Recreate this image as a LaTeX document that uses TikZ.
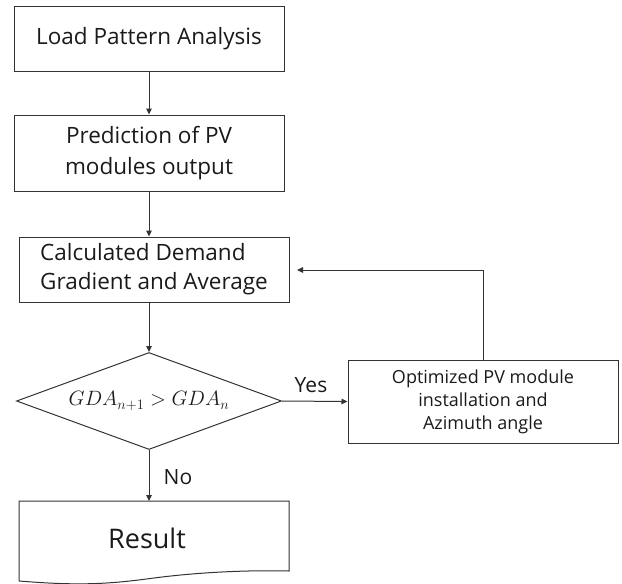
\documentclass[tikz,border=0pt]{standalone}
\usepackage{fontspec}
\setmainfont{Open Sans}
\usetikzlibrary{shapes.geometric,arrows.meta}
\definecolor{ln}{HTML}{333333}
\definecolor{tx}{HTML}{1A1A1A}
\tikzset{
  box/.style={draw=ln, line width=1pt, rectangle, inner sep=0pt, text=tx, align=center},
  dec/.style={draw=ln, line width=1pt, diamond, aspect=2.73, inner sep=0pt, text=tx},
  flow/.style={draw=ln, line width=1pt, -{Triangle[length=6pt,width=5.5pt]}},
  lbl/.style={text=tx, font=\fontsize{21}{24}\selectfont, inner sep=0pt}
}
\begin{document}
\begin{tikzpicture}[x=1pt,y=-1pt]
\useasboundingbox (0,0) rectangle (622,584);
\node[box, minimum width=270pt, minimum height=65pt, font=\fontsize{22.5}{28}\selectfont] (b1) at (149,38.5) {Load Pattern Analysis};
\node[box, minimum width=270pt, minimum height=76pt, font=\fontsize{22.5}{31}\selectfont] (b2) at (149,153) {Prediction of PV\\modules output};
\node[box, minimum width=270pt, minimum height=65pt, font=\fontsize{22.5}{29}\selectfont, align=left] (b3) at (154,269.5) {Calculated Demand\\Gradient and Average};
\node[dec, minimum width=265pt, minimum height=97pt, font=\fontsize{21}{24}\selectfont] (d) at (149,401) {$GDA_{n+1} > GDA_n$};
\node[box, minimum width=270pt, minimum height=83pt, font=\fontsize{18}{23}\selectfont] (b4) at (483,401.5) {Optimized PV module\\installation and\\Azimuth angle};
\node[text=tx, font=\fontsize{27}{30}\selectfont, inner sep=0pt] (r) at (147,538) {Result};
\coordinate (rtop) at (149,501);
\coordinate (fb) at (297,270);
\draw[draw=ln, line width=1pt] (19,581) -- (19,501) -- (289,501) -- (289,571)
  .. controls (250,570) and (200,572) .. (154,578)
  .. controls (110,584) and (80,586) .. (19,581);
\draw[flow] (b1) -- (b2);
\draw[flow] (b2) -- (b2 |- b3.north);
\draw[flow] (b3.south -| d) -- (d.north);
\draw[flow] (d.east) -- (b4.west);
\draw[flow] (b4.north) |- (fb);
\draw[flow] (d.south) -- (rtop);
\node[lbl] (yes) at (311,385) {Yes};
\node[lbl] (no) at (178,477) {No};
\end{tikzpicture}
\end{document}
